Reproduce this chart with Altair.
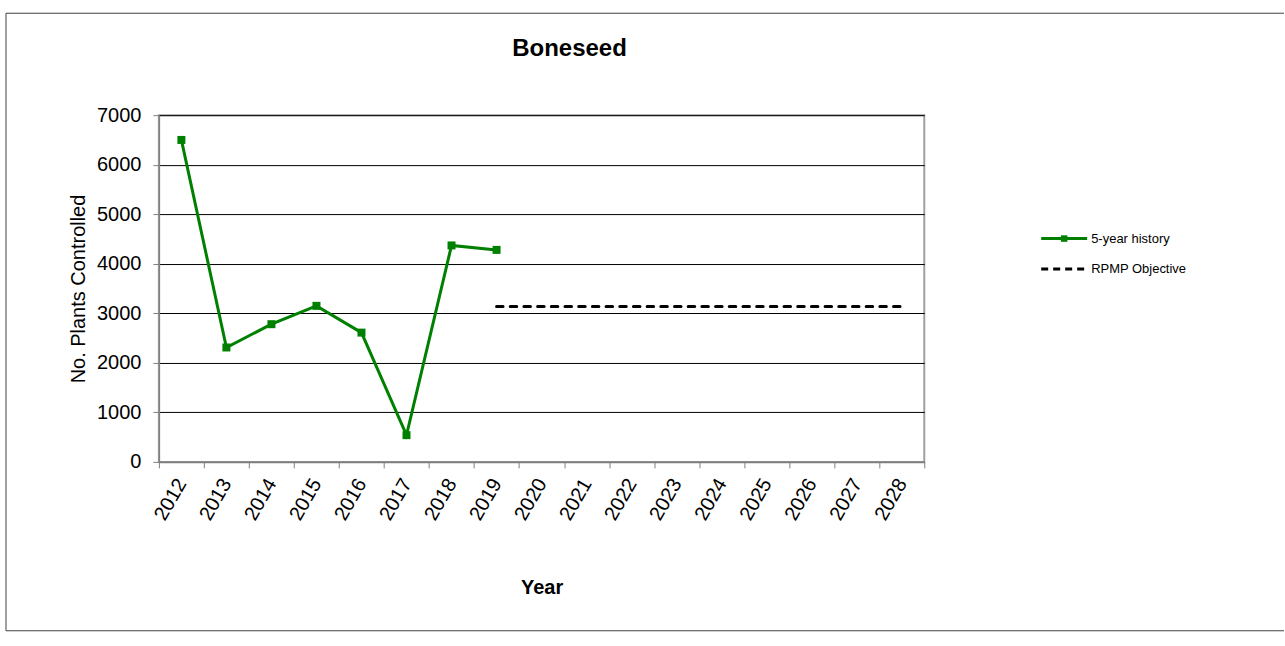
import altair as alt
import pandas as pd

# Category axis and series values
years = [str(y) for y in range(2012, 2029)]
history_years = ["2012", "2013", "2014", "2015", "2016", "2017", "2018", "2019"]
history_values = [6500, 2310, 2780, 3150, 2610, 540, 4370, 4280]
objective_years = [str(y) for y in range(2019, 2029)]
objective_value = 3135
series_names = ["5-year history", "RPMP Objective"]
series_colors = ["#008000", "#000000"]
y_ticks = [0, 1000, 2000, 3000, 4000, 5000, 6000, 7000]

history = pd.DataFrame({"year": history_years, "value": history_values,
                        "series": series_names[0]})
objective = pd.DataFrame({"year": objective_years,
                          "value": [objective_value] * len(objective_years),
                          "series": series_names[1]})

FONT = "Liberation Sans"

color = alt.Color("series:N", scale=alt.Scale(domain=series_names, range=series_colors),
                  legend=None)

x_enc = alt.X(
    "year:O",
    scale=alt.Scale(type="band", domain=years, paddingInner=0, paddingOuter=0),
    axis=alt.Axis(
        title="Year", tickBand="extent", labelAngle=300, labelAlign="right",
        labelBaseline="middle", labelFontSize=20, labelPadding=12, labelColor="black",
        tickSize=6, tickColor="#808080", domainColor="#808080", domainWidth=1.5,
        titleFontSize=20, titleFontWeight="bold", titleColor="black",
        titleY=126, titleBaseline="middle", grid=False,
    ),
)
y_enc = alt.Y(
    "value:Q",
    scale=alt.Scale(domain=[0, 7000], nice=False),
    axis=alt.Axis(
        title="No. Plants Controlled", values=y_ticks, format="d", grid=True,
        gridColor="black", gridWidth=1, tickSize=6, tickColor="#808080",
        domainColor="#808080", domainWidth=1.5, labelFontSize=20, labelPadding=12,
        labelColor="black", titleFontSize=20, titleFontWeight="normal",
        titleColor="black", titleX=-80, titleBaseline="middle",
    ),
)

hist_line = alt.Chart(history).mark_line(strokeWidth=3).encode(x=x_enc, y=y_enc, color=color)
hist_pts = alt.Chart(history).mark_square(size=64, opacity=1).encode(x=x_enc, y=y_enc, color=color)
obj_line = alt.Chart(objective).mark_line(
    strokeWidth=3, strokeDash=[6.5, 7.2], strokeCap="round"
).encode(x=x_enc, y=y_enc, color=color)

main = alt.layer(hist_line, obj_line, hist_pts).properties(
    width=766, height=347,
    view=alt.ViewBackground(stroke="#a0a0a0", strokeWidth=2),
    title=alt.TitleParams("Boneseed", fontSize=24, fontWeight="bold", color="black",
                          anchor="middle", frame="group", dx=28, offset=25,
                          baseline="alphabetic"),
)

# Key drawn beside the plot
key_data = pd.DataFrame({"series": series_names})
key_y = alt.Y("series:N",
              scale=alt.Scale(type="band", domain=series_names, range=[108.25, 169.25],
                              paddingInner=0, paddingOuter=0),
              axis=None)
key_scale = alt.Scale(domain=[0, 1])
key_rule_solid = alt.Chart(key_data).transform_filter(
    alt.datum.series == series_names[0]
).mark_rule(strokeWidth=3).encode(
    x=alt.X(datum=0, type="quantitative", scale=key_scale, axis=None),
    x2=alt.X2(datum=1), y=key_y, color=color)
key_rule_dash = alt.Chart(key_data).transform_filter(
    alt.datum.series == series_names[1]
).mark_rule(strokeWidth=3, strokeDash=[7, 5]).encode(
    x=alt.X(datum=0, type="quantitative", scale=key_scale, axis=None),
    x2=alt.X2(datum=1), y=key_y, color=color)
key_pt = alt.Chart(key_data).transform_filter(
    alt.datum.series == series_names[0]
).mark_square(size=42, opacity=1).encode(
    x=alt.X(datum=0.5, type="quantitative", scale=key_scale, axis=None),
    y=key_y, color=color)
key_text = alt.Chart(key_data).mark_text(
    align="left", baseline="middle", dx=4, fontSize=13, color="black"
).encode(
    x=alt.X(datum=1, type="quantitative", scale=key_scale, axis=None),
    y=key_y, text="series:N")

# Outer chart frame (top, left and bottom edges; the right edge runs off the page)
frame_src = alt.Data(values=[{}])
frame_style = dict(stroke="#404040", strokeWidth=1)
frame_top = alt.Chart(frame_src).mark_rule(**frame_style).encode(
    x=alt.value(-1036), x2=alt.value(243), y=alt.value(-102))
frame_bottom = alt.Chart(frame_src).mark_rule(**frame_style).encode(
    x=alt.value(-1036), x2=alt.value(243), y=alt.value(516))
frame_left = alt.Chart(frame_src).mark_rule(**frame_style).encode(
    x=alt.value(-1036), y=alt.value(-102), y2=alt.value(516))

key = alt.layer(frame_top, frame_bottom, frame_left,
                key_rule_solid, key_rule_dash, key_pt, key_text).properties(
    width=46, height=347, view=alt.ViewBackground(stroke="transparent"))

chart = alt.hconcat(main, key, spacing=117, bounds="flush").properties(
    padding={"left": 5, "top": 12, "right": 0, "bottom": 14},
    autosize=alt.AutoSizeParams(type="pad"),
    background="white",
).configure(font=FONT)

chart.save("out.html", embed_options={"renderer": "svg", "actions": False})
